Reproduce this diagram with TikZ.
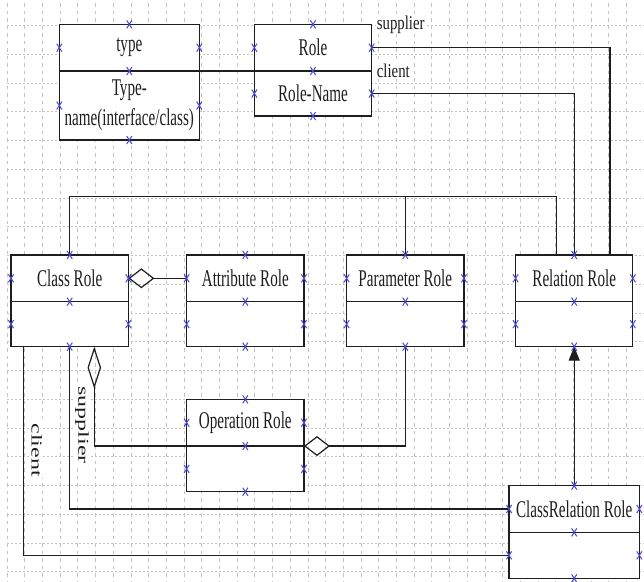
\documentclass[tikz,border=0pt]{standalone}
\usepackage{fontspec}
\usepackage{graphicx}
\setmainfont{Liberation Serif}
\newfontfamily\rolefont[FakeStretch=0.63]{Liberation Serif}
\newfontfamily\endfont[FakeStretch=0.76]{Liberation Serif}
\usetikzlibrary{
  arrows.meta,
  positioning
}
\definecolor{gridgray}{RGB}{195, 195, 195}
\definecolor{markblue}{RGB}{70, 70, 245}
\definecolor{inkgray}{RGB}{30, 30, 30}
\tikzset{
  role/.style = {
    rectangle, draw=inkgray, line width=1.2pt, fill=white,
    minimum width=#1, minimum height=46.7pt, inner sep=0pt, outer sep=0pt,
    align=center, text=inkgray, font=\rolefont\fontsize{24}{30}\selectfont
  },
  role/.default = 117.3pt,
  body/.style = {role=#1, minimum height=45pt},
  body/.default = 117.3pt,
  link/.style = {draw=inkgray, line width=1.2pt},
  hagg/.style = {{Diamond[open, length=26pt, width=20pt]}-, link},
  vagg/.style = {{Diamond[open, length=42pt, width=13.5pt]}-, link},
  gen/.style  = {-{Triangle[length=14pt, width=11pt]}, link},
  lbl/.style  = {fill=white, inner sep=1pt, text=inkgray,
                 font=\endfont\fontsize{19.5}{20}\selectfont},
  sidelbl/.style = {fill=white, inner sep=1pt, text=inkgray, rotate=-90,
                    font=\fontsize{24}{24}\selectfont},
  gridv/.style = {draw=gridgray, line width=0.7pt, dash pattern=on 3.5pt off 4pt},
  gridh/.style = {draw=gridgray, line width=0.7pt, dash pattern=on 2pt off 2pt},
  xmark/.pic = {
    \draw[markblue, line width=1pt] (-2.6,-4) -- (2.6,4) (-2.6,4) -- (2.6,-4);
  },
}
\newcommand\rolemarks[2]{%
  \foreach \a in {north,west,east,south} \pic at (#1.\a) {xmark};
  \foreach \a in {west,east,south} \pic at (#2.\a) {xmark};
}

\begin{document}
\begin{tikzpicture}[x=1pt, y=-1pt]

  \fill[white] (0,0) rectangle (644,581);
  \useasboundingbox (0,0) rectangle (644,581);

  %% ── Grid ───────────────────────────────────────────────────────────────
  \foreach \k in {0,...,36}
    \draw[gridv] ({7+17.7*\k},3) -- ({7+17.7*\k},581);
  \foreach \k in {0,...,19}
    \draw[gridh] (7,{25.5+28.75*\k}) -- (644,{25.5+28.75*\k});

  %% ── Top row ────────────────────────────────────────────────────────────
  \node[role=140pt] (type) at (129.3,47.7) {type};
  \node[body=140pt, minimum height=69pt, below=0pt of type] (type_body)
    {Type-\\name(interface/class)};

  \node[role] (role) at (313,47.7) {Role};
  \node[body, below=0pt of role] (role_body) {Role-Name};

  %% ── Middle row ─────────────────────────────────────────────────────────
  \node[role] (cls) at (69.7,278.3) {Class Role};
  \node[body, below=0pt of cls] (cls_body) {};

  \node[role] (attr) at (245.3,278.3) {Attribute Role};
  \node[body, below=0pt of attr] (attr_body) {};

  \node[role] (param) at (405.3,278.3) {Parameter Role};
  \node[body, below=0pt of param] (param_body) {};

  \node[role] (rel) at (574.2,278.3) {Relation Role};
  \node[body, below=0pt of rel] (rel_body) {};

  %% ── Bottom row ─────────────────────────────────────────────────────────
  \node[role] (op) at (245.3,422.7) {Operation Role};
  \node[body, minimum height=45.7pt, below=0pt of op] (op_body) {};

  \node[role=130.3pt] (crr) at (574.2,509) {ClassRelation Role};
  \node[body=130.3pt, minimum height=46pt, below=0pt of crr] (crr_body) {};

  %% ── Connectors ─────────────────────────────────────────────────────────
  \draw[link] (type.south east) -- (role.south west);
  \draw[link] (role.east) -| ([xshift=35.8pt]rel.north);
  \draw[link] (role_body.east) -| (rel.north);

  \coordinate (bus) at (556.7,196.7);
  \draw[link] (cls.north) |- (bus) -- (bus |- rel.north);
  \draw[link] (param.north) -- (param.north |- bus);

  \draw[hagg] (cls.east) -- (attr.west);
  \draw[vagg] ([xshift=24.6pt]cls_body.south) |- (op.south west);
  \draw[hagg] (op.south east) -| (param_body.south);

  \draw[link] (cls_body.south) |- (crr.west);
  \draw[link] ([xshift=12.3pt]cls_body.south west) |- (crr_body.west);
  \draw[gen]  (crr.north) -- (rel_body.south);

  %% ── Role labels ────────────────────────────────────────────────────────
  \node[lbl, anchor=west] (sup_top) at ([xshift=4pt]role.north east) {supplier};
  \node[lbl, anchor=west] (cli_top) at ([xshift=4pt]role.south east) {client};
  \node[sidelbl] (sup_side) at (82,425) {\scalebox{1}[0.63]{supplier}};
  \node[sidelbl] (cli_side) at (36.7,450) {\scalebox{1}[0.63]{client}};

  %% ── Connection marks ───────────────────────────────────────────────────
  \rolemarks{type}{type_body}
  \rolemarks{role}{role_body}
  \rolemarks{cls}{cls_body}
  \rolemarks{attr}{attr_body}
  \rolemarks{param}{param_body}
  \rolemarks{rel}{rel_body}
  \rolemarks{op}{op_body}
  \rolemarks{crr}{crr_body}

\end{tikzpicture}
\end{document}
